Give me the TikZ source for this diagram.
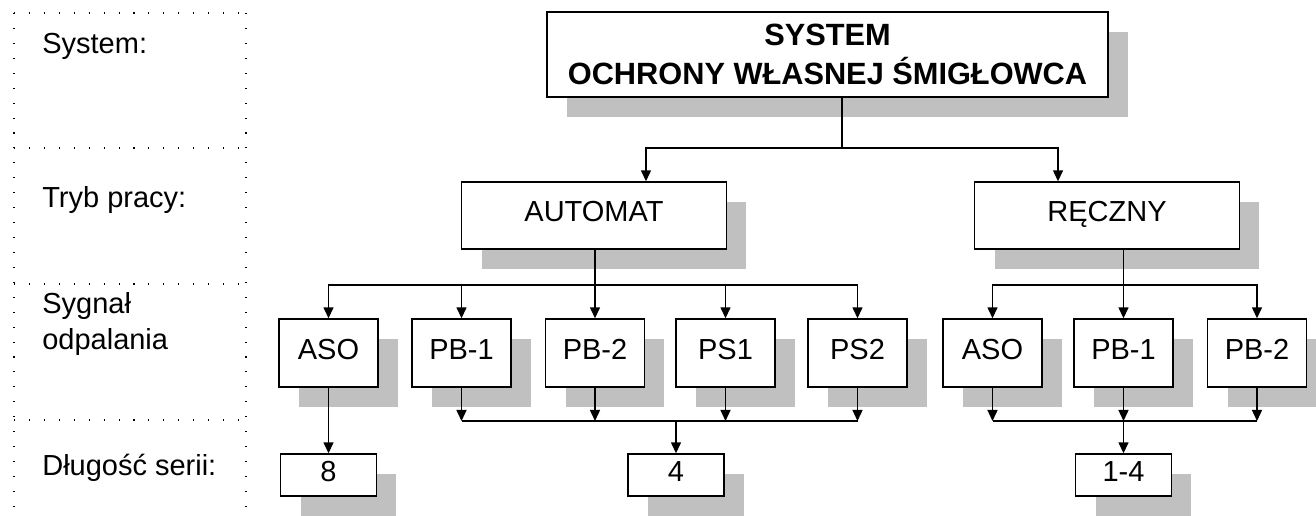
\documentclass[tikz,border=0pt]{standalone}
\usepackage{fontspec}
\setmainfont{Liberation Sans}
\usepackage{tikz}
\usetikzlibrary{arrows.meta, shadows}
\definecolor{shadowgray}{RGB}{192, 192, 192}
\definecolor{linegray}{RGB}{0, 0, 0}

\begin{document}
\begin{tikzpicture}[
        x=0.02cm, y=-0.02cm,
        box/.style={rectangle, draw=linegray, fill=white, line width=0.8pt, inner sep=0pt,
            font=\fontsize{16.5}{19}\selectfont,
            drop shadow={shadow xshift=0.4cm, shadow yshift=-0.4cm, fill=shadowgray, opacity=1}},
        onebox/.style={box, text height=0.72em, text depth=0.02em},
        mainbox/.style={box, minimum width=11.22cm, minimum height=1.7cm, align=center,
            font=\fontsize{17.5}{22}\selectfont\bfseries},
        modebox/.style={onebox, minimum width=5.3cm, minimum height=1.34cm},
        sigbox/.style={onebox, minimum width=1.98cm, minimum height=1.36cm},
        serbox/.style={onebox, minimum width=1.92cm, minimum height=0.84cm},
        rowlabel/.style={anchor=west, align=left, inner sep=0pt, font=\fontsize{16.5}{21}\selectfont},
        dotline/.style={line width=0.6pt, dash pattern=on 0.6pt off 7.9pt},
        link/.style={line width=0.8pt, draw=linegray},
        >={Triangle[length=2.2mm, width=2mm]}
    ]
    \useasboundingbox (0,0) rectangle (1316,516);

    % Row frame
    \foreach \y in {13,148,284,420} {
        \draw[dotline] (14,\y) -- (246,\y);
    }
    \foreach \x in {14,246} {
        \draw[dotline] (\x,13) -- (\x,516);
    }
    \node[rowlabel] (lsys) at (42,46) {System:};
    \node[rowlabel] (lmode) at (42,200) {Tryb pracy:};
    \node[rowlabel] (lsig) at (42,324) {Sygnał\\odpalania};
    \node[rowlabel] (lser) at (42,468) {Długość serii:};

    % System
    \node[mainbox] (top) at (827.5,54.5) {SYSTEM\\OCHRONY WŁASNEJ ŚMIGŁOWCA};

    % Operating modes
    \node[modebox] (auto) at (594,215.5) {AUTOMAT};
    \node[modebox] (manual) at (1107,215.5) {RĘCZNY};

    % Firing signals
    \foreach \name/\lab/\x in {a1/ASO/328.5, a2/PB-1/461.5, a3/PB-2/595, a4/PS1/725.5, a5/PS2/857.5,
                               m1/ASO/992.5, m2/PB-1/1123.5, m3/PB-2/1257} {
        \node[sigbox] (\name) at (\x,353) {\lab};
    }

    % Series length
    \node[serbox] (s8) at (328.5,475) {8};
    \node[serbox] (s4) at (676,475) {4};
    \node[serbox] (s14) at (1123.5,475) {1-4};

    % Arrows: system to modes
    \coordinate (bar1) at (842,148);
    \draw[link] (top.south -| bar1) -- (bar1);
    \draw[link, ->] (bar1) -| ([xshift=1.04cm]auto.north);
    \draw[link, ->] (bar1) -| ([xshift=-0.98cm]manual.north);

    % Arrows: automat to signals
    \coordinate (bar2) at (a3.north |- 0,285);
    \draw[link] (auto.south -| bar2) -- (bar2);
    \foreach \i in {1,...,5} {
        \draw[link, ->] (bar2) -| (a\i.north);
    }

    % Arrows: manual to signals
    \coordinate (bar3) at (m2.north |- 0,285);
    \draw[link] (manual.south -| bar3) -- (bar3);
    \foreach \i in {1,2,3} {
        \draw[link, ->] (bar3) -| (m\i.north);
    }

    % Arrows: signals to series length
    \draw[link, ->] (a1.south) -- (s8.north);
    \coordinate (bar4) at (s4.north |- 0,421);
    \draw[link] (a2.south |- bar4) -- (a5.south |- bar4);
    \foreach \i in {2,...,5} {
        \draw[link, ->] (a\i.south) -- (a\i.south |- bar4);
    }
    \draw[link, ->] (bar4) -- (s4.north);
    \coordinate (bar5) at (s14.north |- 0,421);
    \draw[link] (m1.south |- bar5) -- (m3.south |- bar5);
    \foreach \i in {1,2,3} {
        \draw[link, ->] (m\i.south) -- (m\i.south |- bar5);
    }
    \draw[link, ->] (bar5) -- (s14.north);
\end{tikzpicture}
\end{document}
